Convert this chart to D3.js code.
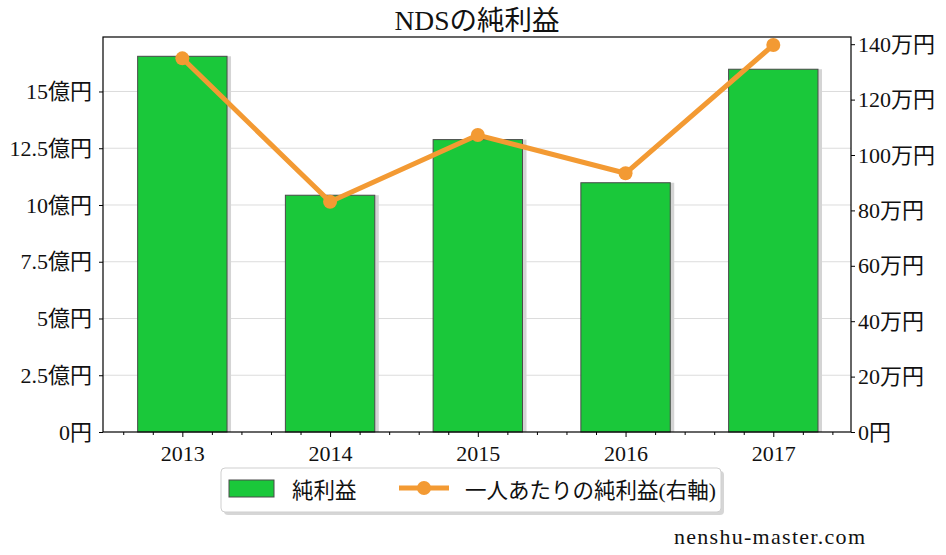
<!DOCTYPE html>
<html><head><meta charset="utf-8">
<script src="https://cdn.jsdelivr.net/npm/d3@7"></script>
<style>
body{margin:0;background:#fff;}
svg text{font-family:"Liberation Serif","DejaVu Serif","Noto Sans CJK JP",serif;fill:#111;}
</style></head>
<body><svg id="c" width="946" height="555"></svg>
<script>
const years = ["2013","2014","2015","2016","2017"];
const netIncome = [16.55, 10.43, 12.88, 10.98, 15.98];      // 億円
const perCapita = [134.9, 83.1, 107.2, 93.4, 139.7];        // 万円
const leftTicks = [0, 2.5, 5, 7.5, 10, 12.5, 15];
const leftTickLabels = ["0円","2.5億円","5億円","7.5億円","10億円","12.5億円","15億円"];
const rightTicks = [0, 20, 40, 60, 80, 100, 120, 140];
const rightTickLabels = ["0円","20万円","40万円","60万円","80万円","100万円","120万円","140万円"];
const title = "NDSの純利益";
const legendLabels = ["純利益", "一人あたりの純利益(右軸)"];
const watermark = "nenshu-master.com";

const svg = d3.select("#c");
const L = 103, R = 851, T = 37, B = 432;
const green = "#1ac83a", orange = "#f39a33";

const x = d3.scaleLinear().domain([-0.537, 4.526]).range([L, R]);
const yL = d3.scaleLinear().domain([0, 17.4]).range([B, T]);
const yR = d3.scaleLinear().domain([0, 142.6]).range([B, T]);

// grid
svg.append("g").selectAll("line").data(leftTicks.slice(1)).join("line")
  .attr("x1", L).attr("x2", R).attr("y1", d => yL(d)).attr("y2", d => yL(d))
  .attr("stroke", "#dcdcdc").attr("stroke-width", 1);

const bw = 0.605;
// shadows
svg.append("g").selectAll("rect").data(netIncome).join("rect")
  .attr("x", (d,i) => x(i - bw/2) + 4).attr("y", d => yL(d))
  .attr("width", x(bw) - x(0)).attr("height", d => B - yL(d))
  .attr("fill", "#d4d4d4");
// bars
svg.append("g").selectAll("rect").data(netIncome).join("rect")
  .attr("x", (d,i) => x(i - bw/2)).attr("y", d => yL(d))
  .attr("width", x(bw) - x(0)).attr("height", d => B - yL(d))
  .attr("fill", green).attr("stroke", "#4a4a4a").attr("stroke-width", 1);

// line
const line = d3.line().x((d,i) => x(i)).y(d => yR(d));
svg.append("path").datum(perCapita).attr("d", line)
  .attr("fill", "none").attr("stroke", orange).attr("stroke-width", 5).attr("stroke-linejoin", "round");
svg.append("g").selectAll("circle").data(perCapita).join("circle")
  .attr("cx", (d,i) => x(i)).attr("cy", d => yR(d)).attr("r", 7).attr("fill", orange);

// frame
svg.append("rect").attr("x", L).attr("y", T).attr("width", R-L).attr("height", B-T)
  .attr("fill", "none").attr("stroke", "#000").attr("stroke-width", 1.2);

// left axis
const gl = svg.append("g").attr("transform", `translate(${L},0)`)
  .call(d3.axisLeft(yL).tickValues(leftTicks).tickFormat((d,i) => leftTickLabels[i]).tickSize(4).tickPadding(7));
// right axis
const gr = svg.append("g").attr("transform", `translate(${R},0)`)
  .call(d3.axisRight(yR).tickValues(rightTicks).tickFormat((d,i) => rightTickLabels[i]).tickSize(4).tickPadding(3));
// bottom axis
const gb = svg.append("g").attr("transform", `translate(0,${B})`)
  .call(d3.axisBottom(x).tickValues(years.map((d,i) => i)).tickFormat((d,i) => years[i]).tickSize(5).tickPadding(5));
const minor = d3.range(-0.4, 4.5, 0.2).filter(v => Math.abs(v - Math.round(v)) > 0.01);
svg.append("g").attr("transform", `translate(0,${B})`)
  .call(d3.axisBottom(x).tickValues(minor).tickFormat("").tickSize(3))
  .select(".domain").remove();
[gl, gr, gb].forEach(g => {
  g.select(".domain").remove();
  g.selectAll("text").style("font-size", "22px").attr("fill", "#111");
  g.selectAll("line").attr("stroke", "#000");
});
gb.selectAll("text").attr("dy", "0.85em");

// title
svg.append("text").attr("x", 477).attr("y", 30).attr("text-anchor", "middle")
  .style("font-size", "27.5px").text(title);

// legend
const lg = svg.append("g");
lg.append("rect").attr("x", 224).attr("y", 471).attr("width", 500).attr("height", 44).attr("rx", 4)
  .attr("fill", "#bbb").attr("opacity", 0.6);
lg.append("rect").attr("x", 221).attr("y", 468).attr("width", 500).attr("height", 44).attr("rx", 4)
  .attr("fill", "#fff").attr("stroke", "#cfcfcf").attr("stroke-width", 1);
lg.append("rect").attr("x", 229).attr("y", 480).attr("width", 45).attr("height", 17)
  .attr("fill", green).attr("stroke", "#4a4a4a").attr("stroke-width", 1);
lg.append("text").attr("x", 292).attr("y", 498).style("font-size", "21.5px").text(legendLabels[0]);
lg.append("line").attr("x1", 399).attr("x2", 449).attr("y1", 488).attr("y2", 488)
  .attr("stroke", orange).attr("stroke-width", 5);
lg.append("circle").attr("cx", 424).attr("cy", 488).attr("r", 7).attr("fill", orange);
lg.append("text").attr("x", 465).attr("y", 498).style("font-size", "21.5px").text(legendLabels[1]);

// watermark
svg.append("text").attr("x", 674).attr("y", 544).style("font-size", "22px")
  .attr("textLength", 191).attr("lengthAdjust", "spacing").text(watermark);
</script></body></html>
